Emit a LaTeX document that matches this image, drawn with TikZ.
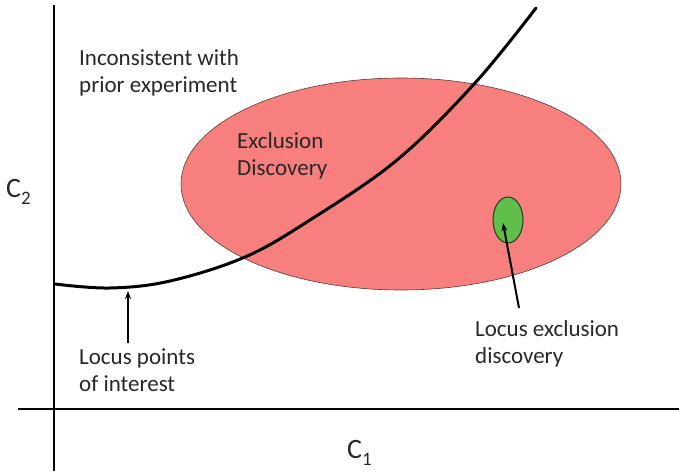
\documentclass[tikz,border=0pt]{standalone}
\usepackage{fontspec}
\setmainfont{Carlito}
\usetikzlibrary{arrows.meta}
\definecolor{salmon}{RGB}{247,128,126}
\definecolor{salmonedge}{RGB}{90,60,60}
\definecolor{gfill}{RGB}{96,190,74}
\definecolor{gedge}{RGB}{30,60,30}
\definecolor{txt}{RGB}{40,40,40}
\tikzset{
  axisline/.style={line width=2pt, black},
  locus/.style={line width=3pt, black, line cap=round},
  pointer/.style={line width=2pt, black, -{Stealth[length=8pt,width=6pt]}},
  lbl/.style={inner sep=0pt, align=left, anchor=base west, text=txt, font=\fontsize{23}{27}\selectfont},
  axlbl/.style={inner sep=0pt, text=txt, anchor=base west}
}
\newcommand{\axname}[2]{{\fontsize{28}{28}\selectfont #1\raisebox{-0.25em}{\fontsize{19}{19}\selectfont #2}}}
\begin{document}
\begin{tikzpicture}[x=1pt,y=-1pt]
\useasboundingbox (0,0) rectangle (679,471);
% big ellipse
\fill[salmon, draw=salmonedge, line width=0.6pt] (401,184) ellipse [x radius=220, y radius=106];
\coordinate (bigc) at (401,184);
% green ellipse
\fill[gfill, draw=gedge, line width=1pt] (508,220) ellipse [x radius=15, y radius=23];
\coordinate (gc) at (508,220);
% axes
\coordinate (yaxTop) at (54,5);
\coordinate (yaxBot) at (54,471);
\coordinate (xaxL) at (18,409);
\coordinate (xaxR) at (679,409);
\draw[axisline] (yaxTop) -- (yaxBot);
\draw[axisline] (xaxL) -- (xaxR);
% curve
\draw[locus] plot[smooth, tension=0.6] coordinates {(55,284) (110,288) (170,281) (245,257) (310,220) (397,160) (475,83) (536,8)};
% labels (anchored at baseline of last line)
\node[lbl] (incons) at (79,92) {Inconsistent with\\prior experiment};
\node[lbl] (excl) at (237,175) {Exclusion\\Discovery};
\node[lbl] (lpi) at (79,391) {Locus points\\of interest};
\node[lbl] (led) at (475,363) {Locus exclusion\\discovery};
\node[axlbl] (c2) at (6,197) {\axname{C}{2}};
\node[axlbl] (c1) at (347,458) {\axname{C}{1}};
% pointers
\coordinate (lpTail) at (128,343);
\coordinate (lpTip) at (128,291);
\draw[pointer] (lpTail) -- (lpTip);
\coordinate (ledTail) at (519,308);
\coordinate (ledTip) at (503,223);
\draw[pointer] (ledTail) -- (ledTip);
\end{tikzpicture}
\end{document}
